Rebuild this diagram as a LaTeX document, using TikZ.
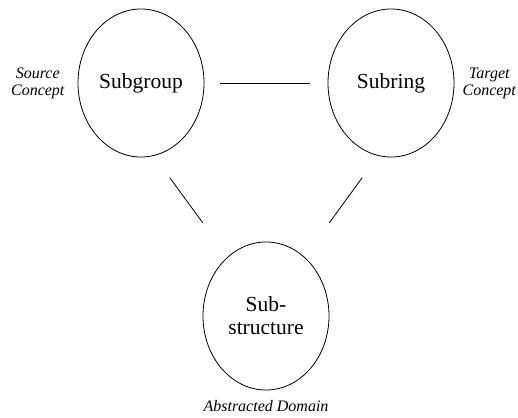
\documentclass[tikz,border=0pt]{standalone}
\usepackage{fontspec}
\setmainfont{Liberation Serif}
\usepackage{tikz}
\usetikzlibrary{positioning}
\usetikzlibrary{shapes.geometric}

\tikzset{
  concept/.style={draw, ellipse, line width=0.8pt, inner sep=0pt,
    minimum width=126pt, minimum height=148pt, align=center,
    font=\fontsize{21.5}{23}\selectfont},
  role/.style={align=center, inner sep=1pt, font=\fontsize{16}{17}\selectfont\itshape},
  link/.style={line width=0.8pt}
}

\begin{document}
\begin{tikzpicture}[x=1pt,y=1pt]
  \useasboundingbox (0,0) rectangle (518,-417);
  \node[concept] (sg)  at (141,-83)  {Subgroup};
  \node[concept] (sr)  at (391,-83)  {Subring};
  \node[concept] (sub) at (266,-316) {Sub-\\structure};
  \node[role, left=12pt of sg]  (src) {Source\\Concept};
  \node[role, right=7pt of sr]  (tgt) {Target\\Concept};
  \node[role, below=9pt of sub] (dom) {Abstracted Domain};
  \draw[link, shorten <=16pt, shorten >=18pt] (sg.east) -- (sr.west);
  \draw[link, shorten <=27pt, shorten >=42pt] (sg.-80) -- (sub.123);
  \draw[link, shorten <=27pt, shorten >=42pt] (sr.-100) -- (sub.57);
  \end{tikzpicture}
\end{document}
